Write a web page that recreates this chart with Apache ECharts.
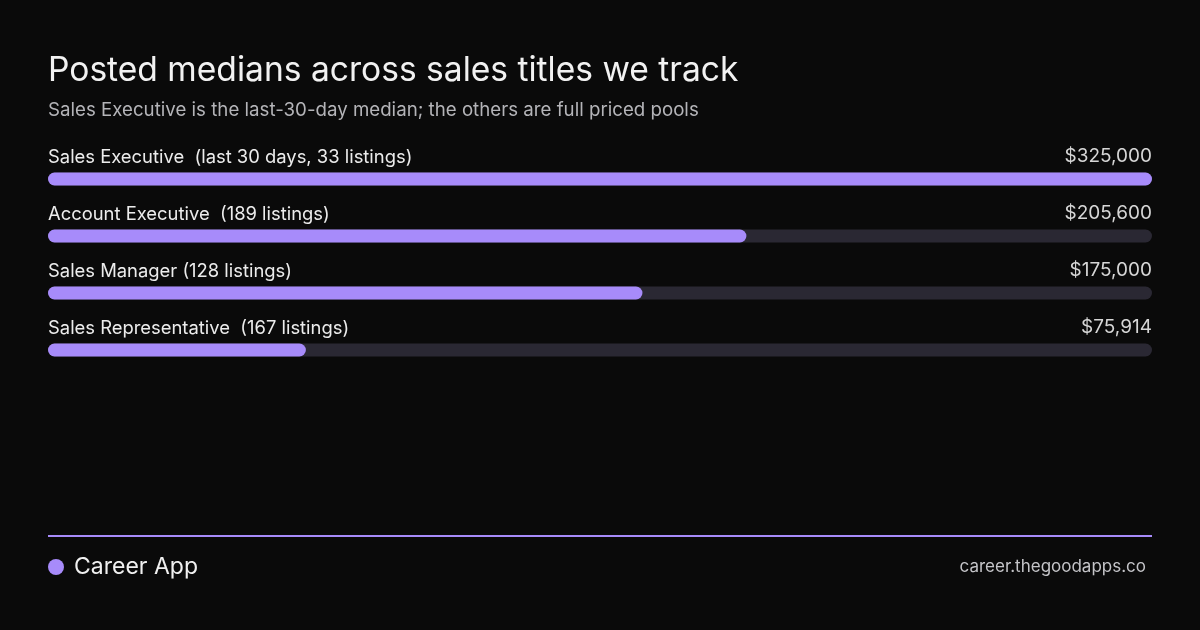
<!DOCTYPE html>
<html>
<head>
<meta charset="utf-8">
<script src="https://cdn.jsdelivr.net/npm/echarts@6/dist/echarts.min.js"></script>
<style>
html,body{margin:0;padding:0;background:#0a0a0a;}
#c{width:1200px;height:630px;}
</style>
</head>
<body>
<div id="c"></div>
<script>
const categories = ['Sales Executive', 'Account Executive', 'Sales Manager', 'Sales Representative'];
const details = [' (last 30 days, 33 listings)', ' (189 listings)', '(128 listings)', ' (167 listings)'];
const values = [325000, 205600, 175000, 75914];
const maxValue = 325000;

const FONT = 'Inter, "Noto Sans", sans-serif';
const fmt = v => '$' + v.toLocaleString('en-US');

const chart = echarts.init(document.getElementById('c'));
chart.setOption({
  backgroundColor: '#0a0a0a',
  animation: false,
  grid: { left: 48, right: 48, top: 150.5, height: 228 },
  xAxis: { type: 'value', min: 0, max: maxValue, show: false },
  yAxis: { type: 'category', data: categories, inverse: true, show: false },
  series: [
    {
      type: 'bar',
      data: categories.map(() => maxValue),
      barWidth: 13,
      barGap: '-100%',
      silent: true,
      itemStyle: { color: '#2a2833', borderRadius: 6.5 },
      label: {
        show: true,
        position: ['100%', -16],
        align: 'right',
        verticalAlign: 'middle',
        color: '#d6d6d6',
        fontFamily: FONT,
        fontSize: 19,
        formatter: p => fmt(values[p.dataIndex])
      }
    },
    {
      type: 'bar',
      data: values,
      barWidth: 13,
      barGap: '-100%',
      itemStyle: { color: '#a78bfa', borderRadius: 6.5 },
      label: {
        show: true,
        position: [0, -15.5],
        align: 'left',
        verticalAlign: 'middle',
        color: '#ececec',
        fontFamily: FONT,
        fontSize: 18.4,
        formatter: p => categories[p.dataIndex] + ' ' + details[p.dataIndex]
      }
    }
  ],
  graphic: [
    { type: 'text', x: 48, y: 70.5, style: { text: 'Posted medians across sales titles we track', fill: '#f2f2f2', font: '400 33.6px ' + FONT, textVerticalAlign: 'middle' } },
    { type: 'text', x: 48, y: 110.5, style: { text: 'Sales Executive is the last-30-day median; the others are full priced pools', fill: '#b4b4b8', font: '400 18.7px ' + FONT, textVerticalAlign: 'middle' } },
    { type: 'rect', shape: { x: 48, y: 535, width: 1104, height: 2 }, style: { fill: '#a78bfa' } },
    { type: 'circle', shape: { cx: 56, cy: 567, r: 8 }, style: { fill: '#a78bfa' } },
    { type: 'text', x: 74, y: 567, style: { text: 'Career App', fill: '#f0f0f0', font: '400 23px ' + FONT, textVerticalAlign: 'middle' } },
    { type: 'text', x: 1146, y: 567, style: { text: 'career.thegoodapps.co', fill: '#c4c4c8', font: '400 17px ' + FONT, textAlign: 'right', textVerticalAlign: 'middle' } }
  ]
});
</script>
</body>
</html>
